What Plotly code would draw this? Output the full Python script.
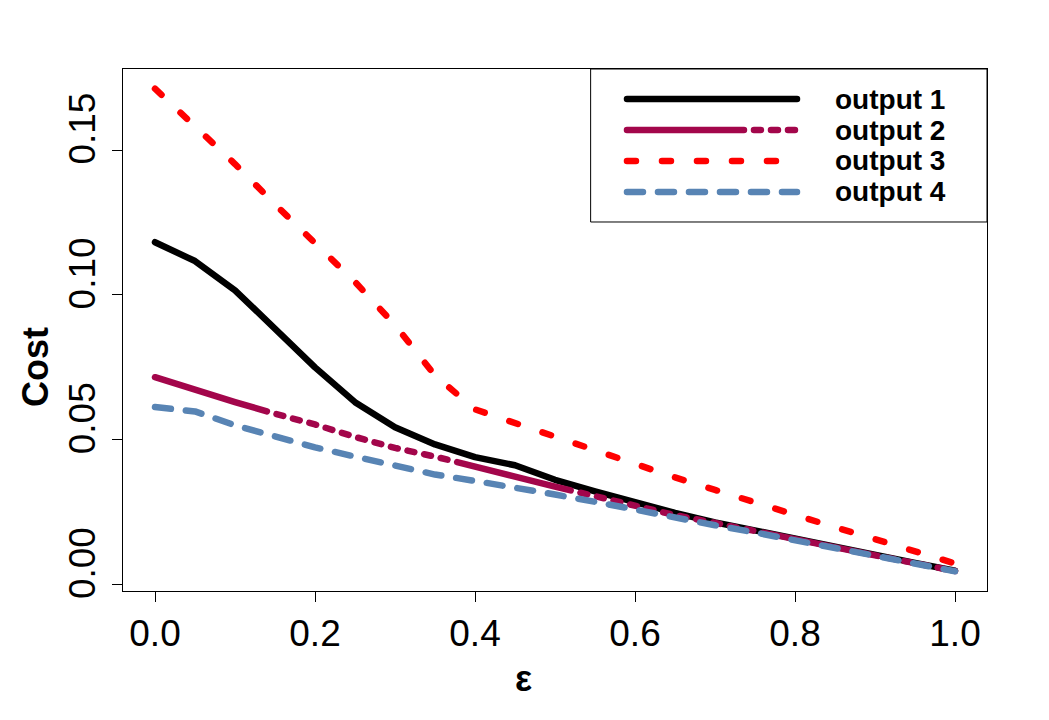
import plotly.graph_objects as go

# ---------------- data ----------------
epsilon = [0.00, 0.05, 0.10, 0.15, 0.20, 0.25, 0.30, 0.35, 0.40, 0.45, 0.50,
           0.55, 0.60, 0.65, 0.70, 0.75, 0.80, 0.85, 0.90, 0.95, 1.00]

output1 = [0.1182, 0.1117, 0.1016, 0.0880, 0.0750, 0.0630, 0.0543, 0.0484, 0.0440, 0.0412, 0.0362,
           0.0322, 0.0283, 0.0248, 0.0215, 0.0186, 0.0158, 0.0130, 0.0102, 0.0075, 0.0048]
output2 = [0.0716, 0.0672, 0.0630, 0.0590, 0.0553, 0.0510, 0.0472, 0.0442, 0.0410, 0.0373, 0.0338,
           0.0306, 0.0270, 0.0240, 0.0213, 0.0184, 0.0156, 0.0129, 0.0101, 0.0074, 0.0047]
output3 = [0.1712, 0.1583, 0.1452, 0.1313, 0.1180, 0.1045, 0.0896, 0.0722, 0.0605, 0.0557, 0.0510,
           0.0462, 0.0415, 0.0370, 0.0327, 0.0283, 0.0240, 0.0198, 0.0157, 0.0115, 0.0073]
output4 = [0.0613, 0.0598, 0.0550, 0.0510, 0.0474, 0.0442, 0.0410, 0.0380, 0.0358, 0.0336, 0.0311,
           0.0286, 0.0258, 0.0231, 0.0205, 0.0180, 0.0153, 0.0127, 0.0100, 0.0073, 0.0046]

series_names = ["output 1", "output 2", "output 3", "output 4"]
x_tick_vals = [0.0, 0.2, 0.4, 0.6, 0.8, 1.0]
x_tick_text = ["0.0", "0.2", "0.4", "0.6", "0.8", "1.0"]
y_tick_vals = [0.00, 0.05, 0.10, 0.15]
y_tick_text = ["0.00", "0.05", "0.10", "0.15"]

# ---------------- styles ----------------
LW = 6.5
colors = ["#000000", "#A3064B", "#FF0000", "#5884B4"]
dash2 = "117px,10px," + ",".join(["7px,10px"] * 11)
dashes = ["solid", dash2, "9px,26px", "16px,15px"]
FONT = "Liberation Sans, Arial, Helvetica, sans-serif"

fig = go.Figure()
for name, ys, c, d in zip(series_names, [output1, output2, output3, output4], colors, dashes):
    fig.add_trace(go.Scatter(x=epsilon, y=ys, mode="lines", name=name,
                             line=dict(color=c, width=LW, dash=d), showlegend=False))

fig.update_layout(
    width=1049, height=720,
    margin=dict(l=123, r=62, t=69, b=129),
    paper_bgcolor="white", plot_bgcolor="white",
    font=dict(family=FONT, color="black"),
)
fig.update_xaxes(range=[-0.04, 1.04], showgrid=False, zeroline=False,
                 showline=True, linecolor="black", linewidth=1, mirror=True,
                 ticks="outside", ticklen=10, tickwidth=1, tickcolor="black",
                 tickvals=x_tick_vals, ticktext=x_tick_text,
                 tickfont=dict(size=37, family=FONT))
fig.update_yaxes(range=[-0.0022, 0.178], showgrid=False, zeroline=False,
                 showline=True, linecolor="black", linewidth=1, mirror=True,
                 ticks="outside", ticklen=10, tickwidth=1, tickcolor="black",
                 tickvals=y_tick_vals, showticklabels=False)

# y tick labels (rotated, R style)
for v, t in zip(y_tick_vals, y_tick_text):
    fig.add_annotation(text=t, xref="paper", yref="y", x=-0.0469, y=v, yshift=22,
                       textangle=-90, showarrow=False, xanchor="center", yanchor="middle",
                       font=dict(size=37, family=FONT))

# axis titles
fig.add_annotation(text="<b>Cost</b>", xref="paper", yref="paper", x=-0.1019, y=0.429,
                   textangle=-90, showarrow=False, font=dict(size=36, family=FONT),
                   xanchor="center", yanchor="middle")
fig.add_annotation(text="<b>ε</b>", xref="paper", yref="paper", x=0.464, y=-0.1667,
                   showarrow=False, font=dict(size=36, family=FONT),
                   xanchor="center", yanchor="middle")

# manual legend (R style)
fig.add_shape(type="rect", xref="paper", yref="paper", x0=0.5417, x1=1.0, y0=0.7069, y1=1.0,
              line=dict(color="black", width=1), fillcolor="white", layer="above")
leg_y = [0.9425, 0.8831, 0.8238, 0.7644]
for name, c, d, yy in zip(series_names, colors, dashes, leg_y):
    fig.add_shape(type="line", xref="paper", yref="paper", x0=0.5833, x1=0.7801, y0=yy, y1=yy,
                  line=dict(color=c, width=LW, dash=d), layer="above")
    fig.add_annotation(text="<b>" + name + "</b>", xref="paper", yref="paper", x=0.8218, y=yy,
                       showarrow=False, xanchor="left", yanchor="middle",
                       font=dict(size=28, family=FONT))

post = """
var s=document.createElement('style');
s.innerHTML='path.js-line, .shapelayer path{stroke-linecap:round !important;stroke-linejoin:round !important;}';
document.head.appendChild(s);
var gd=document.getElementById('{plot_id}');
function rc(){
  gd.querySelectorAll('path.js-line, .shapelayer path').forEach(function(p){
    p.style.setProperty('stroke-linecap','round','important');
    p.style.setProperty('stroke-linejoin','round','important');
    p.setAttribute('stroke-linecap','round');
  });
}
rc();
if (gd.on) { gd.on('plotly_afterplot', rc); }
"""
fig.write_html("out.html", post_script=post)
